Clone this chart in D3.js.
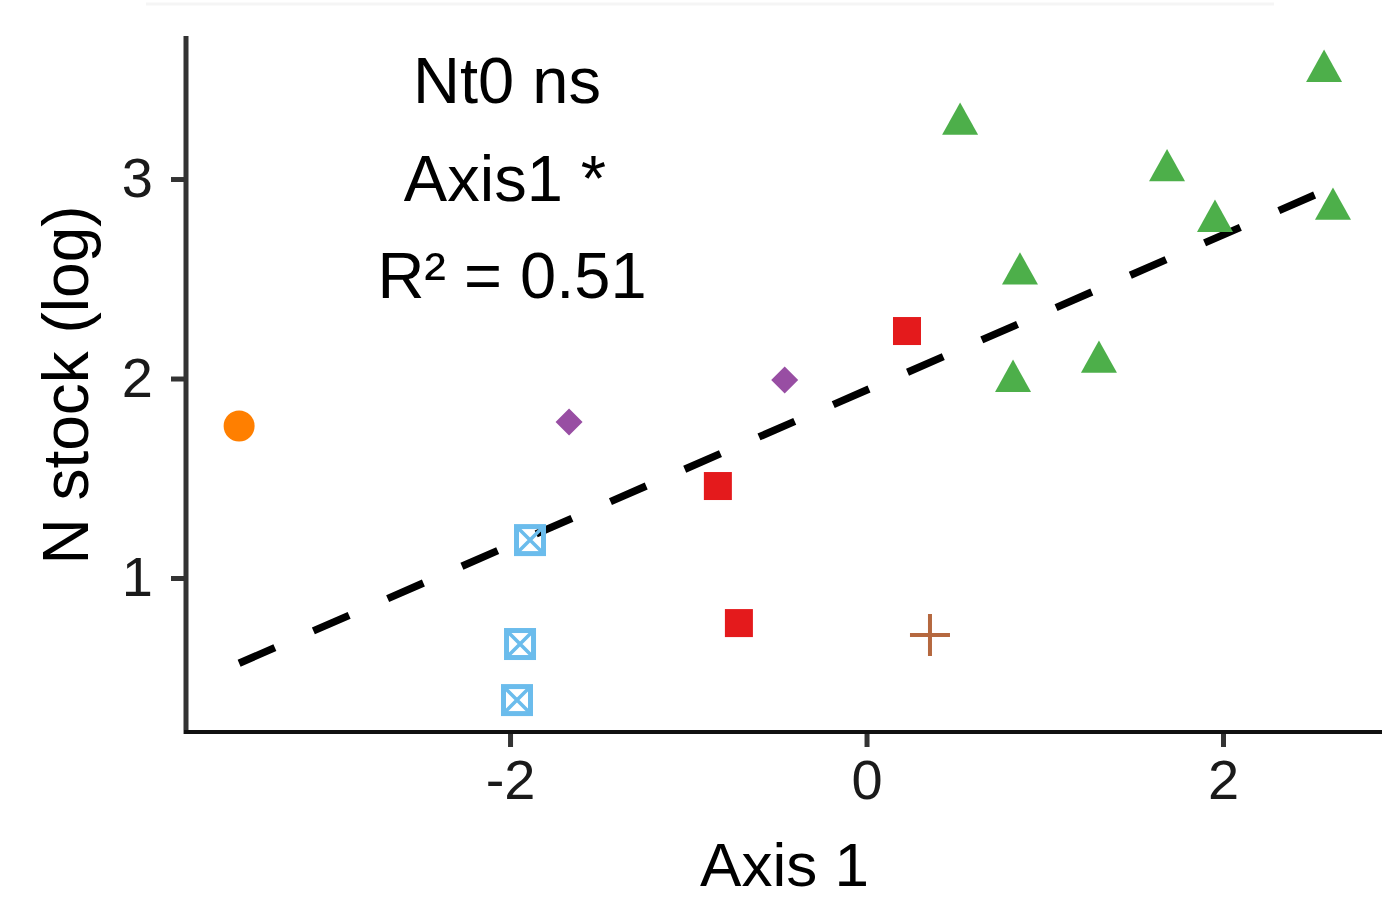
<!DOCTYPE html>
<html>
<head>
<meta charset="utf-8">
<script src="https://cdn.jsdelivr.net/npm/d3@7"></script>
<style>
  body { margin: 0; background: #fff; }
  text { font-family: 'Liberation Sans', Arial, sans-serif; }
</style>
</head>
<body>
<div id="chart"></div>
<script>
// groups of points (Axis 1 score, N stock log)
const orangeX = [-3.52]
const orangeY = [1.762]
const purpleX = [-1.669, -0.459]
const purpleY = [1.782, 1.992]
const redX = [0.227, -0.834, -0.716]
const redY = [2.238, 1.461, 0.774]
const blueX = [-1.888, -1.944, -1.961]
const blueY = [1.19, 0.669, 0.388]
const brownX = [0.356]
const brownY = [0.714]
const greenX = [0.525, 1.686, 1.955, 0.861, 1.304, 0.822, 2.617, 2.567]
const greenY = [3.276, 3.043, 2.789, 2.525, 2.083, 1.987, 2.85, 3.541]

// fitted line
const fitIntercept = 1.942
const fitSlope = 0.389

const xTicks = [-2, 0, 2]
const yTicks = [1, 2, 3]
const annotation = ['Nt0 ns', 'Axis1 *', 'R² = 0.51']

const margin = { top: 36, right: 0, bottom: 169, left: 186 }
const width = 1382 - margin.left - margin.right
const height = 901 - margin.top - margin.bottom

const svg = d3
  .select('#chart')
  .append('svg')
  .attr('width', 1382)
  .attr('height', 901)

// faint band at the very top
svg.append('line')
  .attr('x1', 146).attr('x2', 1274)
  .attr('y1', 4).attr('y2', 4)
  .attr('stroke', '#f5f5f5')
  .attr('stroke-width', 3)

const g = svg.append('g')
  .attr('transform', 'translate(' + margin.left + ',' + margin.top + ')')

const xPositionScale = d3.scaleLinear().domain([-3.818, 2.892]).range([0, width])
const yPositionScale = d3.scaleLinear().domain([0.228, 3.717]).range([height, 0])

const zip = (xs, ys) => xs.map((x, i) => ({ x: x, y: ys[i] }))

// regression line over the data range
const allX = [].concat(orangeX, purpleX, redX, blueX, brownX, greenX)
const xMin = d3.min(allX)
const xMax = d3.max(allX)
g.append('line')
  .attr('x1', xPositionScale(xMin))
  .attr('y1', yPositionScale(fitIntercept + fitSlope * xMin))
  .attr('x2', xPositionScale(xMax))
  .attr('y2', yPositionScale(fitIntercept + fitSlope * xMax))
  .attr('stroke', '#000')
  .attr('stroke-width', 7.5)
  .attr('stroke-dasharray', '39,42')

const tr = d => 'translate(' + xPositionScale(d.x) + ',' + yPositionScale(d.y) + ')'

g.selectAll('.orange')
  .data(zip(orangeX, orangeY))
  .enter()
  .append('circle')
  .attr('cx', d => xPositionScale(d.x))
  .attr('cy', d => yPositionScale(d.y))
  .attr('r', 15.5)
  .attr('fill', '#FF7F00')

g.selectAll('.purple')
  .data(zip(purpleX, purpleY))
  .enter()
  .append('path')
  .attr('transform', tr)
  .attr('d', 'M0,-13.5L13.5,0L0,13.5L-13.5,0Z')
  .attr('fill', '#984EA3')

g.selectAll('.red')
  .data(zip(redX, redY))
  .enter()
  .append('rect')
  .attr('x', d => xPositionScale(d.x) - 14)
  .attr('y', d => yPositionScale(d.y) - 14)
  .attr('width', 28)
  .attr('height', 28)
  .attr('fill', '#E41A1C')

const blue = g.selectAll('.blue')
  .data(zip(blueX, blueY))
  .enter()
  .append('g')
  .attr('transform', tr)
  .attr('fill', 'none')
  .attr('stroke', '#6bbcec')
  .attr('stroke-width', 5)
blue.append('rect')
  .attr('x', -13.5).attr('y', -13.5)
  .attr('width', 27).attr('height', 27)
blue.append('path')
  .attr('d', 'M-13,-13L13,13M13,-13L-13,13')
  .attr('stroke-width', 3.5)

g.selectAll('.brown')
  .data(zip(brownX, brownY))
  .enter()
  .append('path')
  .attr('transform', tr)
  .attr('d', 'M-20,0L20,0M0,-21L0,21')
  .attr('stroke', '#b5683f')
  .attr('stroke-width', 4)

g.selectAll('.green')
  .data(zip(greenX, greenY))
  .enter()
  .append('path')
  .attr('transform', tr)
  .attr('d', 'M0,-21.5L18,10.8L-18,10.8Z')
  .attr('fill', '#4DAF4A')

// axes
const xAxis = d3.axisBottom(xPositionScale).tickValues(xTicks).tickSize(15).tickPadding(12)
  .tickFormat(d => (d < 0 ? '-' + Math.abs(d) : d))
g.append('g')
  .attr('class', 'axis x-axis')
  .attr('transform', 'translate(0,' + height + ')')
  .call(xAxis)

const yAxis = d3.axisLeft(yPositionScale).tickValues(yTicks).tickSize(15).tickPadding(18)
  .tickFormat(d3.format('d'))
g.append('g')
  .attr('class', 'axis y-axis')
  .call(yAxis)

g.selectAll('.axis .domain').remove()
g.append('line')
  .attr('x1', 0).attr('x2', 0).attr('y1', 0).attr('y2', height + 2)
  .attr('stroke', '#333').attr('stroke-width', 5)
g.append('line')
  .attr('x1', -2).attr('x2', width).attr('y1', height).attr('y2', height)
  .attr('stroke', '#111').attr('stroke-width', 4)

g.selectAll('.axis .tick line')
  .attr('stroke', '#333')
  .attr('stroke-width', 5)
g.selectAll('.axis .tick text')
  .attr('font-size', 56)
  .attr('fill', '#1a1a1a')
  .style('font-family', "'Liberation Sans', Arial, sans-serif")

// axis titles
svg.append('text')
  .attr('x', margin.left + xPositionScale(-0.46))
  .attr('y', 886)
  .attr('text-anchor', 'middle')
  .attr('font-size', 62)
  .text('Axis 1')

svg.append('text')
  .attr('transform', 'translate(88,' + 385 + ') rotate(-90)')
  .attr('text-anchor', 'middle')
  .attr('font-size', 64)
  .text('N stock (log)')

// annotation
svg.selectAll('.note')
  .data(annotation)
  .enter()
  .append('text')
  .attr('x', (d, i) => [507, 505, 512][i])
  .attr('y', (d, i) => 103 + i * 97.5)
  .attr('text-anchor', 'middle')
  .attr('font-size', 65)
  .text(d => d)
</script>
</body>
</html>
